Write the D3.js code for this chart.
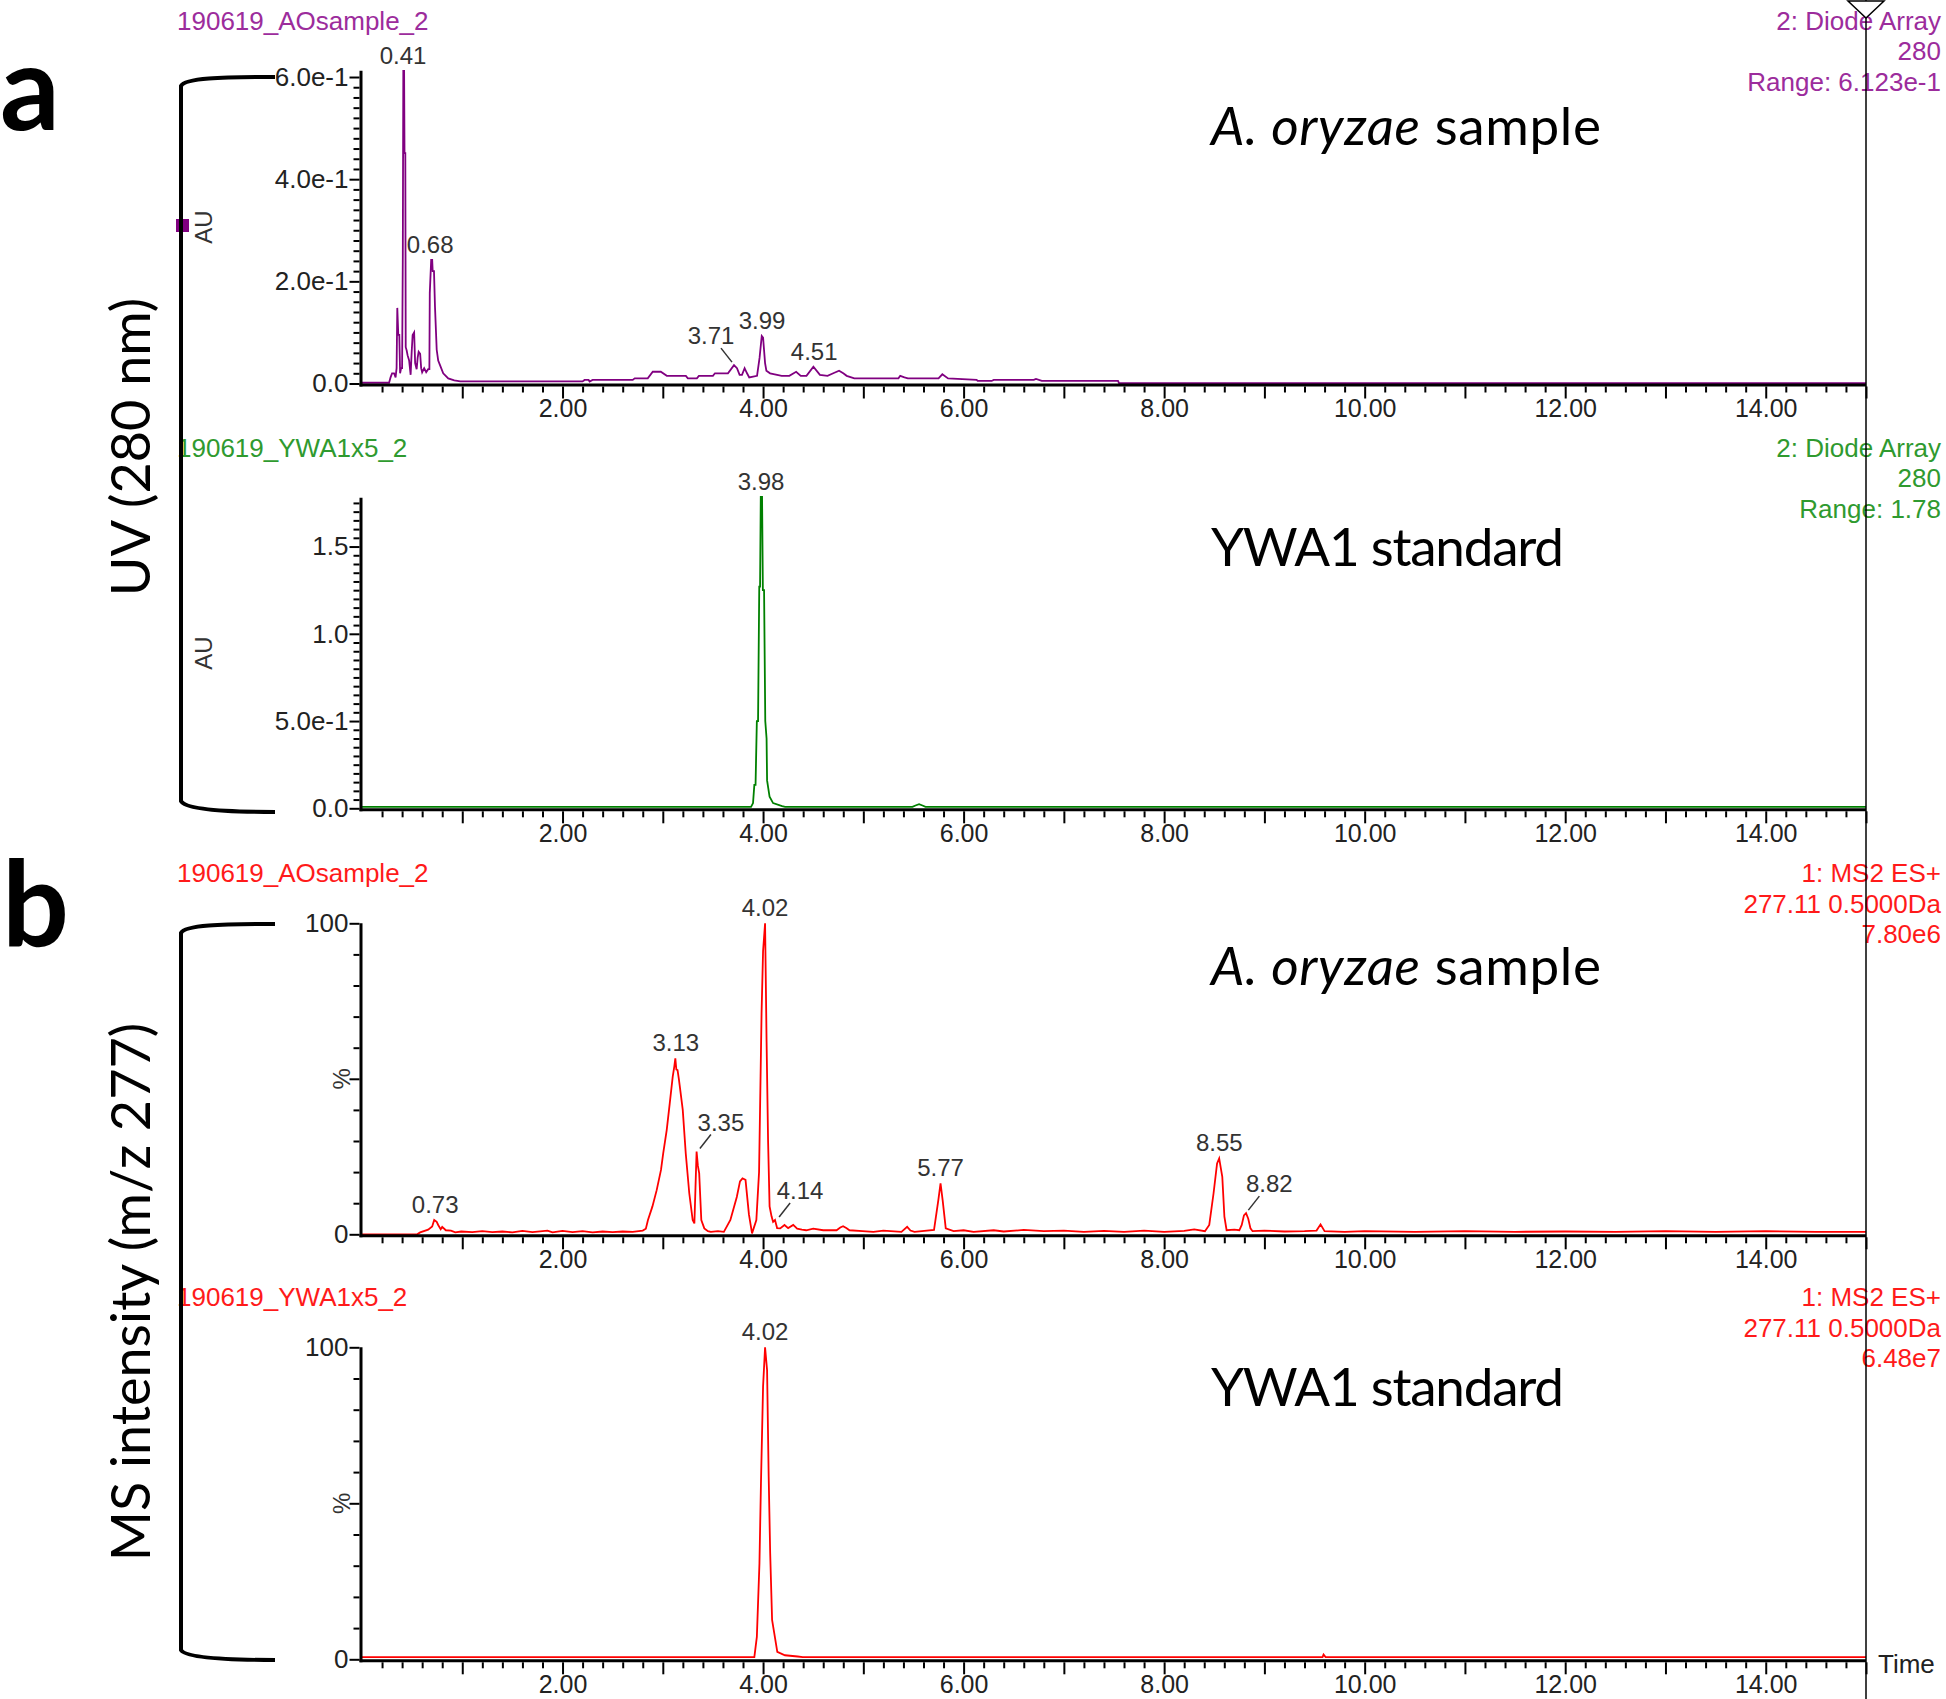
<!DOCTYPE html>
<html><head><meta charset="utf-8">
<script src="https://cdn.jsdelivr.net/npm/d3@7"></script>
<style>body{margin:0;background:#fff}svg{display:block}</style>
</head><body>
<script>
// ---------------- DATA ----------------
const timeDomain = [0, 15];
const xMajorTicks = [1,2,3,4,5,6,7,8,9,10,11,12,13,14,15];
const xLabelTicks = [2,4,6,8,10,12,14];
const xTickLabels = ["2.00","4.00","6.00","8.00","10.00","12.00","14.00"];

// UV 280 nm, A. oryzae sample [time(min), AU]
const uvSample = [
[0.00,0.0015],[0.27,0.0015],[0.285,0.012],[0.30,0.02],[0.32,0.02],[0.335,0.012],[0.345,0.03],[0.352,0.148],[0.362,0.095],[0.372,0.095],[0.38,0.02],[0.39,0.03],[0.40,0.03],[0.407,0.25],[0.412,0.612],[0.42,0.612],[0.424,0.451],[0.432,0.451],[0.436,0.071],[0.445,0.065],[0.455,0.055],[0.47,0.045],[0.485,0.017],[0.495,0.06],[0.505,0.095],[0.52,0.10],[0.53,0.04],[0.545,0.028],[0.555,0.05],[0.565,0.062],[0.58,0.058],[0.59,0.03],[0.60,0.022],[0.62,0.03],[0.64,0.022],[0.66,0.028],[0.672,0.028],[0.676,0.177],[0.69,0.242],[0.70,0.242],[0.705,0.22],[0.718,0.22],[0.728,0.15],[0.745,0.066],[0.76,0.045],[0.78,0.035],[0.81,0.02],[0.86,0.01],[0.92,0.006],[0.98,0.004],[2.20,0.004],[2.22,0.007],[2.26,0.007],[2.27,0.004],[2.30,0.007],[2.70,0.007],[2.72,0.010],[2.85,0.010],[2.90,0.023],[2.98,0.023],[3.04,0.015],[3.23,0.015],[3.25,0.010],[3.34,0.010],[3.36,0.015],[3.50,0.015],[3.52,0.020],[3.65,0.020],[3.71,0.036],[3.74,0.030],[3.766,0.017],[3.79,0.017],[3.816,0.030],[3.84,0.020],[3.862,0.012],[3.94,0.015],[3.965,0.05],[3.987,0.093],[4.00,0.09],[4.02,0.04],[4.033,0.025],[4.07,0.02],[4.186,0.015],[4.262,0.015],[4.33,0.023],[4.376,0.015],[4.433,0.015],[4.502,0.033],[4.567,0.017],[4.643,0.015],[4.70,0.02],[4.758,0.025],[4.80,0.02],[4.834,0.015],[4.91,0.01],[5.35,0.01],[5.368,0.015],[5.41,0.012],[5.444,0.01],[5.75,0.01],[5.788,0.018],[5.845,0.01],[6.13,0.007],[6.14,0.005],[6.28,0.005],[6.30,0.007],[6.70,0.007],[6.722,0.009],[6.78,0.005],[7.54,0.005],[7.55,0.0006],[15.0,0.0006]
];
const uvSamplePeaks = [[0.41,0.612],[0.68,0.242],[3.71,0.036],[3.99,0.093],[4.51,0.033]];

// UV 280 nm, YWA1 standard [time, AU]
const uvStandard = [
[0,0.008],[3.88,0.008],[3.90,0.03],[3.913,0.134],[3.925,0.134],[3.938,0.5],[3.95,0.5],[3.962,1.27],[3.97,1.27],[3.977,1.785],[3.99,1.785],[3.998,1.25],[4.01,1.25],[4.022,0.5],[4.035,0.40],[4.04,0.16],[4.065,0.066],[4.10,0.03],[4.19,0.012],[4.22,0.008],[5.49,0.008],[5.52,0.016],[5.556,0.024],[5.59,0.016],[5.62,0.008],[15,0.008]
];
const uvStandardPeaks = [[3.98,1.785]];

// MS2 ES+ 277.11, A. oryzae sample [time, %]
const msSample = [
[0,0],[0.55,0],[0.58,0.6],[0.66,1.5],[0.70,2.5],[0.72,4.6],[0.745,4.0],[0.76,3.0],[0.785,1.6],[0.80,2.4],[0.836,1.3],[0.887,1.2],[0.93,0.6],[0.99,0.9],[1.1,0.7],[1.2,1.0],[1.3,0.7],[1.4,0.9],[1.5,0.6],[1.6,1.1],[1.7,0.7],[1.85,1.2],[1.9,0.6],[2.0,1.1],[2.1,0.7],[2.2,1.0],[2.3,0.6],[2.4,0.9],[2.5,0.7],[2.6,0.9],[2.7,0.8],[2.8,1.2],[2.831,1.8],[2.852,4.6],[2.896,8.9],[2.939,14.2],[2.982,20.7],[3.004,26],[3.039,33.5],[3.069,42],[3.099,50.7],[3.115,54],[3.125,56.6],[3.135,53],[3.147,52.8],[3.16,50],[3.168,48],[3.199,40],[3.229,26],[3.264,13.2],[3.298,4.6],[3.315,3.5],[3.326,15],[3.337,26.6],[3.35,22],[3.363,19.6],[3.384,4.6],[3.414,1.9],[3.45,1.0],[3.479,0.8],[3.55,1.0],[3.609,0.8],[3.674,4.6],[3.738,12],[3.77,17],[3.795,18],[3.825,17.5],[3.859,6.4],[3.89,0.3],[3.933,4.6],[3.96,20],[3.985,71],[4.0,91],[4.02,100],[4.035,62],[4.05,30],[4.065,9],[4.085,5.7],[4.10,4.0],[4.119,4.6],[4.14,2.0],[4.171,1.9],[4.214,3.0],[4.25,2.0],[4.301,3.0],[4.34,1.8],[4.387,1.5],[4.43,1.3],[4.5,1.8],[4.6,1.3],[4.733,1.3],[4.77,2.2],[4.798,2.6],[4.83,2.0],[4.862,1.3],[4.992,1.0],[5.1,0.8],[5.2,1.2],[5.38,0.8],[5.437,2.4],[5.47,1.2],[5.51,0.8],[5.705,1.4],[5.748,11],[5.77,16.4],[5.791,11],[5.822,1.9],[5.9,1.0],[6.0,1.3],[6.1,0.8],[6.3,1.3],[6.4,0.9],[6.6,1.4],[6.8,1.0],[7.0,1.2],[7.2,0.8],[7.4,1.1],[7.6,0.8],[7.8,1.2],[8.0,0.8],[8.2,1.1],[8.3,1.6],[8.407,1.0],[8.45,3.0],[8.493,13.2],[8.528,22.8],[8.549,24.4],[8.58,18.5],[8.601,5.7],[8.623,1.3],[8.70,1.5],[8.75,1.3],[8.774,3],[8.796,6.1],[8.817,6.8],[8.839,5.0],[8.861,1.9],[8.882,1.0],[9.0,1.2],[9.2,0.9],[9.4,1.0],[9.52,1.2],[9.56,3.2],[9.6,1.0],[9.8,0.8],[10.0,1.0],[10.5,0.8],[11.0,1.0],[11.5,0.8],[12.0,0.9],[12.5,0.8],[13.0,1.0],[13.5,0.8],[14.0,1.0],[14.5,0.8],[15,0.8]
];
const msSamplePeaks = [[0.73,4.6],[3.13,56.6],[3.35,26.6],[4.02,100],[4.14,4.6],[5.77,16.4],[8.55,24.4],[8.82,6.8]];

// MS2 ES+ 277.11, YWA1 standard [time, %]
const msStandard = [
[0,0.7],[3.913,0.7],[3.938,7.2],[3.964,30.8],[3.979,56.4],[4.0,87.4],[4.02,100],[4.04,92.7],[4.056,58.5],[4.071,34],[4.09,12.6],[4.142,2.4],[4.218,1.3],[4.345,0.9],[4.396,0.7],[9.58,0.7],[9.59,1.5],[9.61,0.7],[15,0.7]
];
const msStandardPeaks = [[4.02,100]];

const uvSampleYTicks = [0, 0.2, 0.4, 0.6];
const uvSampleYLabels = ["0.0","2.0e-1","4.0e-1","6.0e-1"];
const uvStandardYTicks = [0, 0.5, 1.0, 1.5];
const uvStandardYLabels = ["0.0","5.0e-1","1.0","1.5"];
const msYTicks = [0, 50, 100];
const msYLabels = ["0","","100"];

const runTitles = ["190619_AOsample_2","190619_YWA1x5_2","190619_AOsample_2","190619_YWA1x5_2"];
const uvInfoSample = ["2: Diode Array","280","Range: 6.123e-1"];
const uvInfoStandard = ["2: Diode Array","280","Range: 1.78"];
const msInfoSample = ["1: MS2 ES+","277.11 0.5000Da","7.80e6"];
const msInfoStandard = ["1: MS2 ES+","277.11 0.5000Da","6.48e7"];
const leaderDir = {"3.71":-1, "3.35":1, "4.14":1, "8.82":1};

// ---------------- LAYOUT ----------------
const W = 1946, H = 1699;
const FONT = "'Liberation Sans', Arial, sans-serif";
const BIG = "Lato, 'Open Sans', sans-serif";
const svg = d3.select("body").append("svg").attr("width", W).attr("height", H);
svg.append("rect").attr("width",W).attr("height",H).attr("fill","#fff");

const x = d3.scaleLinear().domain(timeDomain).range([362, 1866]);
const yAxisX = 361;

const panels = [
  {data: uvSample, peaks: uvSamplePeaks, yMax: 0.6123, zeroY: 383.5, pxPerUnit: 510.8,
   line:"#800080", text:"#9c2c9c", title: runTitles[0], info: uvInfoSample,
   ticks: uvSampleYTicks, labels: uvSampleYLabels, minorStep: 0.02, minorN: 30, unit:"AU", unitX: 212,
   note: "sample", noteY: 145},
  {data: uvStandard, peaks: uvStandardPeaks, yMax: 1.78, zeroY: 808.3, pxPerUnit: 174.5,
   line:"#008000", text:"#2f9a2f", title: runTitles[1], info: uvInfoStandard,
   ticks: uvStandardYTicks, labels: uvStandardYLabels, minorStep: 0.05, minorN: 35, unit:"AU", unitX: 212,
   note: "standard", noteY: 566},
  {data: msSample, peaks: msSamplePeaks, yMax: 100, zeroY: 1234.3, pxPerUnit: 3.11,
   line:"#ff0000", text:"#ff1a1a", title: runTitles[2], info: msInfoSample,
   ticks: msYTicks, labels: msYLabels, minorStep: 10, minorN: 9, unit:"%", unitX: 350,
   note: "sample", noteY: 985},
  {data: msStandard, peaks: msStandardPeaks, yMax: 100, zeroY: 1659.3, pxPerUnit: 3.12,
   line:"#ff0000", text:"#ff1a1a", title: runTitles[3], info: msInfoStandard,
   ticks: msYTicks, labels: msYLabels, minorStep: 10, minorN: 9, unit:"%", unitX: 350,
   note: "standard", noteY: 1406}
];

panels.forEach(p => {
  const topY = p.zeroY - p.yMax * p.pxPerUnit;
  const y = d3.scaleLinear().domain([0, p.yMax]).range([p.zeroY, topY]);
  const g = svg.append("g");

  // title + info
  g.append("text").attr("x", 177).attr("y", topY - 41).attr("font-family", FONT)
    .attr("font-size", 26).attr("fill", p.text).text(p.title);
  p.info.forEach((s, i) => {
    g.append("text").attr("x", 1941).attr("y", topY - 41 + i * 30.5).attr("text-anchor","end")
      .attr("font-family", FONT).attr("font-size", 26).attr("fill", p.text).text(s);
  });

  // trace
  g.append("path").datum(p.data)
    .attr("fill","none").attr("stroke", p.line).attr("stroke-width", 1.8).attr("stroke-linejoin","miter")
    .attr("d", d3.line().x(d => x(d[0])).y(d => y(d[1])));

  // x axis
  g.append("line").attr("x1", yAxisX - 1.5).attr("x2", x(15)).attr("y1", p.zeroY + 1.5).attr("y2", p.zeroY + 1.5)
    .attr("stroke","#000").attr("stroke-width",3);
  const minorX = d3.range(1, 75).map(i => i * 0.2).filter(v => Math.abs(v - Math.round(v)) > 1e-6);
  const gxm = g.append("g").attr("transform", `translate(0,${p.zeroY + 3})`)
    .call(d3.axisBottom(x).tickValues(minorX).tickSize(6).tickFormat(""));
  const gx = g.append("g").attr("transform", `translate(0,${p.zeroY + 3})`)
    .call(d3.axisBottom(x).tickValues(xMajorTicks).tickSize(12).tickPadding(1)
      .tickFormat(d => { const k = xLabelTicks.indexOf(d); return k >= 0 ? xTickLabels[k] : ""; }));
  [gxm, gx].forEach(a => {
    a.select(".domain").remove();
    a.selectAll(".tick line").attr("stroke","#000").attr("stroke-width",2);
    a.selectAll("text").attr("font-family", FONT).attr("font-size", 25).attr("fill","#222");
  });

  // y axis
  g.append("line").attr("x1", yAxisX).attr("x2", yAxisX).attr("y1", p.zeroY + 3).attr("y2", topY)
    .attr("stroke","#000").attr("stroke-width",3);
  const minorY = d3.range(1, p.minorN + 1).map(i => i * p.minorStep).filter(v => !p.ticks.some(t => Math.abs(t - v) < 1e-6));
  const gym = g.append("g").attr("transform", `translate(${yAxisX - 1.5},0)`)
    .call(d3.axisLeft(y).tickValues(minorY).tickSize(6).tickFormat(""));
  const gy = g.append("g").attr("transform", `translate(${yAxisX - 1.5},0)`)
    .call(d3.axisLeft(y).tickValues(p.ticks).tickSize(10).tickPadding(1).tickFormat((d, i) => p.labels[i]));
  [gym, gy].forEach(a => {
    a.select(".domain").remove();
    a.selectAll(".tick line").attr("stroke","#000").attr("stroke-width",2);
    a.selectAll("text").attr("font-family", FONT).attr("font-size", 26).attr("fill","#222");
  });

  // unit label
  g.append("text").attr("transform", `translate(${p.unitX},${(p.zeroY + topY) / 2}) rotate(-90)`)
    .attr("text-anchor","middle").attr("font-family", FONT).attr("font-size", 24).attr("fill","#333").text(p.unit);

  // peak labels
  p.peaks.forEach(([t, v]) => {
    const lab = t.toFixed(2);
    const px = x(t), py = y(v);
    const dir = leaderDir[lab] || 0;
    if (dir === 0) {
      g.append("text").attr("x", px).attr("y", py - 7).attr("text-anchor","middle")
        .attr("font-family", FONT).attr("font-size", 24).attr("fill","#333").text(lab);
    } else {
      g.append("line").attr("x1", px + dir * 2).attr("y1", py - 3).attr("x2", px + dir * 13).attr("y2", py - 17)
        .attr("stroke","#333").attr("stroke-width",1.5);
      g.append("text").attr("x", px + dir * 23).attr("y", py - 21).attr("text-anchor","middle")
        .attr("font-family", FONT).attr("font-size", 24).attr("fill","#333").text(lab);
    }
  });

  // annotation
  const nt = g.append("text").attr("x", 1211).attr("y", p.noteY).attr("font-family", BIG)
    .attr("font-size", 53).attr("fill","#000");
  if (p.note === "sample") {
    nt.attr("textLength", 390);
    nt.append("tspan").attr("font-style","italic").text("A. oryzae");
    nt.append("tspan").text(" sample");
  } else {
    nt.attr("textLength", 353).text("YWA1 standard");
  }
});

// purple marker
svg.append("rect").attr("x",176).attr("y",219).attr("width",13).attr("height",13).attr("fill","#800080");

// brackets
svg.append("path").attr("d","M275,77 C220,77 185,78 181,86 L181,801 C185,809 220,812 275,812")
  .attr("fill","none").attr("stroke","#000").attr("stroke-width",4);
svg.append("path").attr("d","M275,924 C220,924 185,925 181,933 L181,1650 C185,1657 220,1660 275,1660")
  .attr("fill","none").attr("stroke","#000").attr("stroke-width",4);

// panel letters & side titles
svg.append("text").attr("x",0).attr("y",130).attr("font-family",BIG).attr("font-weight",700).attr("font-size",118).attr("fill","#000").text("a");
svg.append("text").attr("x",2).attr("y",946).attr("font-family",BIG).attr("font-weight",700).attr("font-size",118).attr("fill","#000").text("b");
svg.append("text").attr("transform","translate(150,447) rotate(-90)").attr("text-anchor","middle")
  .attr("font-family",BIG).attr("font-size",54).attr("fill","#000").text("UV (280 nm)");
svg.append("text").attr("transform","translate(150,1292) rotate(-90)").attr("text-anchor","middle")
  .attr("font-family",BIG).attr("font-size",54).attr("fill","#000").text("MS intensity (m/z 277)");

// cursor line + triangle
svg.append("line").attr("x1",x(15)).attr("x2",x(15)).attr("y1",0).attr("y2",H).attr("stroke","#000").attr("stroke-width",1.5);
svg.append("polygon").attr("points",`${x(15)-18},1 ${x(15)+18},1 ${x(15)},18`).attr("fill","#fff").attr("stroke","#000").attr("stroke-width",1.5);

// Time label
svg.append("text").attr("x",1878).attr("y",1673).attr("font-family",FONT).attr("font-size",26).attr("fill","#222").text("Time");
</script>
</body></html>
